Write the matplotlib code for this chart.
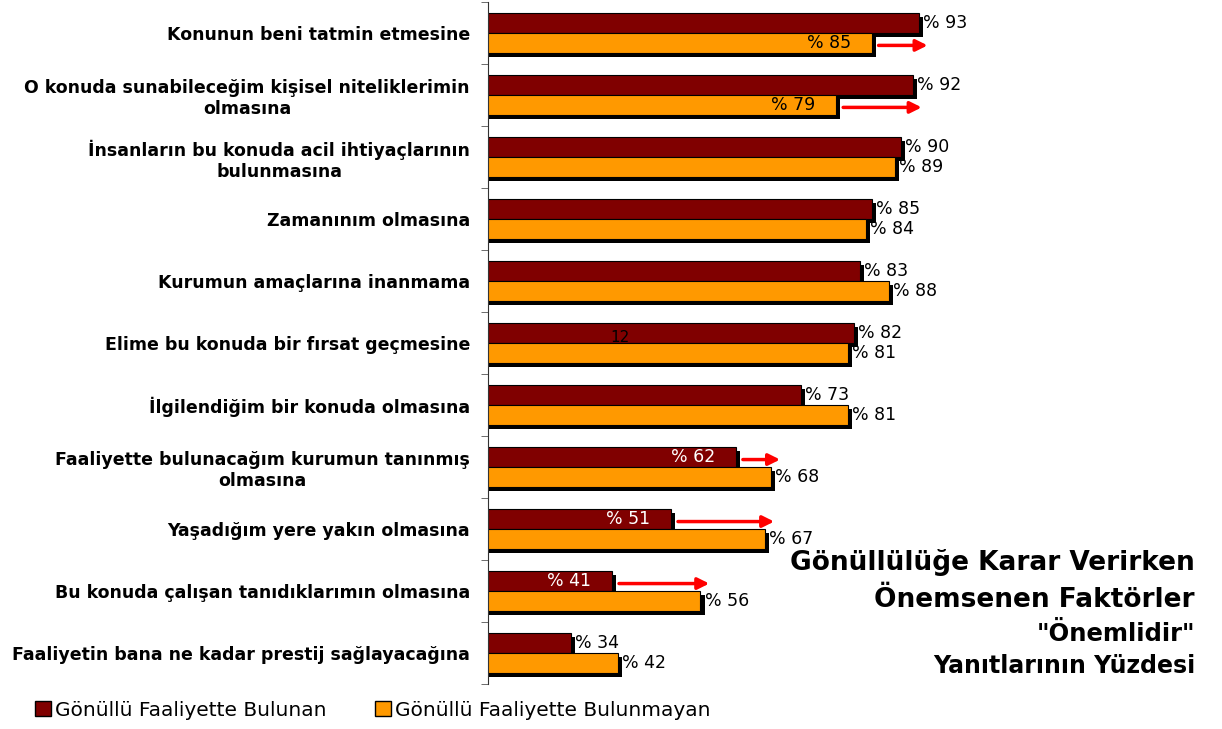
import numpy as np
import matplotlib
matplotlib.use('Agg')
import matplotlib.pyplot as plt
import matplotlib.patheffects as pe
from matplotlib.patches import Patch

plt.rcParams['font.family'] = ['DejaVu Sans']

categories = [
    'Konunun beni tatmin etmesine',
    'O konuda sunabileceğim kişisel niteliklerimin\nolmasına',
    'İnsanların bu konuda acil ihtiyaçlarının\nbulunmasına',
    'Zamanınım olmasına',
    'Kurumun amaçlarına inanmama',
    'Elime bu konuda bir fırsat geçmesine',
    'İlgilendiğim bir konuda olmasına',
    'Faaliyette bulunacağım kurumun tanınmış\nolmasına',
    'Yaşadığım yere yakın olmasına',
    'Bu konuda çalışan tanıdıklarımın olmasına',
    'Faaliyetin bana ne kadar prestij sağlayacağına',
]
bulunan = [93, 92, 90, 85, 83, 82, 73, 62, 51, 41, 34]
bulunmayan = [85, 79, 89, 84, 88, 81, 81, 68, 67, 56, 42]
series_names = ['Gönüllü Faaliyette Bulunan', 'Gönüllü Faaliyette Bulunmayan']
# (row, series index) of bars marked with an arrow towards the other group
highlighted = [(0, 1), (1, 1), (7, 0), (8, 0), (9, 0)]

colors = ['#800000', '#FF9900']
text_in = ['white', 'black']

fig = plt.figure(figsize=(12.22, 7.29), dpi=100)
ax = fig.add_axes([488 / 1222, 1 - 684 / 729, 472 / 1222, 682 / 729])

y = np.arange(len(categories))
h = 0.32
shadow = [pe.withSimplePatchShadow(offset=(3, -3), shadow_rgbFace='black', alpha=1.0)]
vals = [bulunan, bulunmayan]
offs = [-h / 2, h / 2]
for s in range(2):
    ax.barh(y + offs[s], vals[s], height=h, left=0, color=colors[s],
            edgecolor='black', linewidth=0.8, path_effects=shadow, zorder=2)

for i in range(len(categories)):
    for s in range(2):
        v = vals[s][i]
        yy = y[i] + offs[s]
        if (i, s) in highlighted:
            ax.text(v - 3.5, yy, '%% %d' % v, ha='right', va='center',
                    fontsize=12.5, color=text_in[s], zorder=4)
            other = vals[1 - s][i]
            ax.annotate('', xy=(other + 1.5, yy + 0.04), xytext=(v + 1.2, yy + 0.04),
                        arrowprops=dict(arrowstyle='-|>', color='red', lw=2.5,
                                        mutation_scale=17, shrinkA=0, shrinkB=0),
                        zorder=4)
        else:
            ax.text(v + 0.7, yy, '%% %d' % v, ha='left', va='center',
                    fontsize=12.5, color='black', zorder=4)

ax.set_xlim(20, 100)
ax.set_ylim(len(categories) - 0.5, -0.5)
ax.set_yticks(y)
ax.set_yticklabels(categories, fontsize=12.5, fontweight='bold')
for lab in ax.get_yticklabels():
    lab.set_multialignment('center')
ax.tick_params(axis='y', which='major', length=0, pad=13)
ax.set_yticks(np.arange(-0.5, len(categories), 1), minor=True)
ax.tick_params(axis='y', which='minor', length=5, color='#555555')
ax.set_xticks([])
for sp in ['top', 'right', 'bottom']:
    ax.spines[sp].set_visible(False)
ax.spines['left'].set_color('#333333')

# page number left on the slide
fig.text(620 / 1222, 1 - 337 / 729, '12', fontsize=11, ha='center', va='center')

# title block
fig.text(1195 / 1222, 1 - 562 / 729, 'Gönüllülüğe Karar Verirken', fontsize=19,
         fontweight='bold', ha='right', va='center')
fig.text(1195 / 1222, 1 - 600 / 729, 'Önemsenen Faktörler', fontsize=19,
         fontweight='bold', ha='right', va='center')
fig.text(1195 / 1222, 1 - 634 / 729, '"Önemlidir"', fontsize=17.5,
         fontweight='bold', ha='right', va='center')
fig.text(1195 / 1222, 1 - 666 / 729, 'Yanıtlarının Yüzdesi', fontsize=17,
         fontweight='bold', ha='right', va='center')

handles = [Patch(facecolor=colors[s], edgecolor='black', label=series_names[s]) for s in range(2)]
fig.legend(handles=handles, loc='center left', bbox_to_anchor=(27 / 1222, 1 - 710 / 729),
           ncol=2, frameon=False, fontsize=14.5, handlelength=0.8, handleheight=0.8,
           handletextpad=0.2, columnspacing=2.4, borderaxespad=0)

fig.savefig('out.png', dpi=100)
